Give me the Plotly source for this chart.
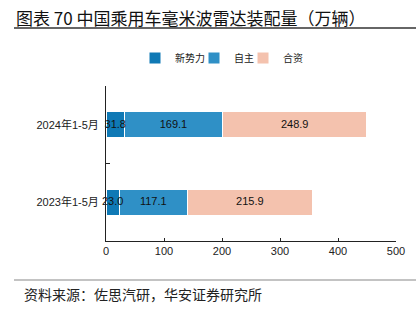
import plotly.graph_objects as go

categories = ["2023年1-5月", "2024年1-5月"]
series_names = ["新势力", "自主", "合资"]
xinshili = [23.0, 31.8]
zizhu = [117.1, 169.1]
hezi = [215.9, 248.9]
colors = ["#0f79b5", "#2f90c6", "#f4c2ae"]
x_ticks = [0, 100, 200, 300, 400, 500]

title_text = "图表 70 中国乘用车毫米波雷达装配量（万辆）"
source_text = "资料来源：佐思汽研，华安证券研究所"

W, H = 416, 323
L, R, T, B = 106, 20, 86, 82
pw, ph = W - L - R, H - T - B

def px(x):
    return (x - L) / pw

def py(y):
    return (H - B - y) / ph

legend_names = ["legend", "legend2", "legend3"]
legend_x = [135, 194, 243]

fig = go.Figure()
series_vals = [xinshili, zizhu, hezi]
for name, vals, col, lg in zip(series_names, series_vals, colors, legend_names):
    fig.add_trace(go.Bar(
        y=categories, x=vals, name=name, orientation="h",
        marker=dict(color=col, line=dict(color="white", width=1)),
        legend=lg, hoverinfo="x+name",
    ))

# data labels drawn on top of all bars, centred in each segment
base = [0.0] * len(categories)
for vals in series_vals:
    mids = [b + v / 2 for b, v in zip(base, vals)]
    fig.add_trace(go.Scatter(
        x=mids, y=categories, mode="text", text=[f"{v:.1f}" for v in vals],
        textposition="middle center", showlegend=False, hoverinfo="skip",
        textfont=dict(color="#111", size=11, family="Liberation Sans, Arial"),
        cliponaxis=False,
    ))
    base = [b + v for b, v in zip(base, vals)]

legend_common = dict(orientation="h", yanchor="middle", xanchor="left",
                     font=dict(size=10, family="Noto Sans CJK SC", color="#222"),
                     itemwidth=30, itemclick=False, bgcolor="rgba(0,0,0,0)")
layout_legends = {}
for lg, lx in zip(legend_names, legend_x):
    layout_legends[lg] = dict(legend_common, x=px(lx), y=py(58))

fig.update_layout(
    width=W, height=H, barmode="stack", bargap=0.66,
    margin=dict(l=L, r=R, t=T, b=B),
    plot_bgcolor="white", paper_bgcolor="white",
    font=dict(family="Liberation Sans, Noto Sans CJK SC", size=11, color="#222"),
    showlegend=True,
    **layout_legends,
)
fig.update_xaxes(range=[0, 500], tickvals=x_ticks, showgrid=False, zeroline=False,
                 showline=True, linecolor="#222", linewidth=1,
                 ticks="inside", ticklen=3, tickcolor="#222",
                 tickfont=dict(size=11, family="Liberation Sans, Arial"))
fig.update_yaxes(showgrid=False, showline=True, linecolor="#222", linewidth=1,
                 ticks="inside", tickson="boundaries", ticklen=4, tickcolor="#222",
                 tickfont=dict(size=11, family="Liberation Sans, Noto Sans CJK SC"),
                 ticklabelstandoff=4)

fig.add_annotation(text=title_text, xref="paper", yref="paper", x=px(14), y=py(17),
                   xanchor="left", yanchor="middle", showarrow=False,
                   font=dict(size=17, family="Noto Sans CJK SC", color="#111"))
fig.add_annotation(text=source_text, xref="paper", yref="paper", x=px(22), y=py(294),
                   xanchor="left", yanchor="middle", showarrow=False,
                   font=dict(size=14, family="Noto Sans CJK SC", color="#222"))
fig.add_shape(type="line", xref="paper", yref="paper", x0=px(14), x1=px(416),
              y0=py(28), y1=py(28), line=dict(color="#333", width=1.5))
fig.add_shape(type="line", xref="paper", yref="paper", x0=px(14), x1=px(416),
              y0=py(280), y1=py(280), line=dict(color="#888", width=1.2))

fig.write_html("out.html")
